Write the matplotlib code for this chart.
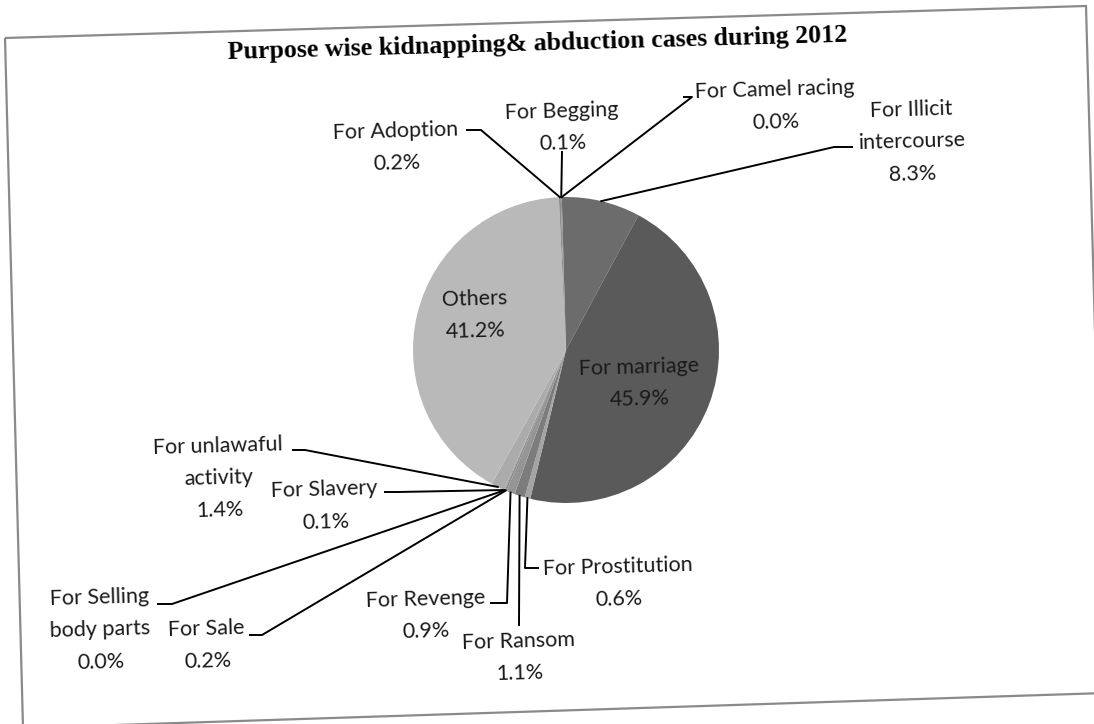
import matplotlib.pyplot as plt
from matplotlib.patches import Polygon
import numpy as np

# data (clockwise from 12 o'clock)
labels = ["For Illicit\nintercourse", "For marriage", "For Prostitution", "For Ransom",
          "For Revenge", "For Sale", "For Selling\nbody parts", "For Slavery",
          "For unlawaful\nactivity", "Others", "For Adoption", "For Begging",
          "For Camel racing"]
values = [8.3, 45.9, 0.6, 1.1, 0.9, 0.2, 0.0, 0.1, 1.4, 41.2, 0.2, 0.1, 0.0]
colors = ["#6c6c6c", "#5a5a5a", "#a4a4a4", "#7c7c7c", "#959595", "#8a8a8a",
          "#8a8a8a", "#9a9a9a", "#ababab", "#b9b9b9", "#8c8c8c", "#8c8c8c", "#8c8c8c"]

title = "Purpose wise kidnapping& abduction cases during 2012"

# label layout in pixels (x from left, y from top): text centre, elbow, end of leader
text_pos = [(912, 142), (639, 383), (618, 583), (519, 657), (426, 615), (207, 645),
            (100, 630), (325, 506), (219, 478), (475, 315), (396, 147), (562, 127),
            (775, 106)]
leaders = [[(834, 147), (852, 147)], None, [(525, 568), (538, 568)], [(519, 625)],
           [(507, 603), (491, 603)], [(262, 635), (250, 635)], [(172, 604), (158, 604)],
           [(398, 492), (385, 492)], [(305, 450), (293, 450)], None,
           [(481, 130), (467, 130)], [(562, 152)], [(692, 97), (684, 97)]]

W, H = 1094, 724
tilt = 1.6  # the scan is slightly rotated


def P(x, y):
    return (x, H - y)


fig = plt.figure(figsize=(W / 100, H / 100), dpi=100)
ax = fig.add_axes([0, 0, 1, 1])
ax.set_xlim(0, W)
ax.set_ylim(0, H)
ax.set_aspect('equal')
ax.axis('off')

# chart frame
frame = Polygon([P(5, 38), P(1086, 6), P(1105, 693), P(23, 728)], closed=True,
                fill=False, edgecolor="#8a8a8a", linewidth=1.6)
ax.add_patch(frame)

center = P(566, 350)
radius = 153
wedges, _ = ax.pie(values, colors=colors, startangle=90 + tilt, counterclock=False,
                   center=center, radius=radius, wedgeprops=dict(linewidth=0))
ax.set_xlim(0, W)
ax.set_ylim(0, H)

font = "Lato"
for w, lab, v, tp, ld in zip(wedges, labels, values, text_pos, leaders):
    ax.text(*P(*tp), f"{lab}\n{v:.1f}%", ha='center', va='center', fontsize=15.5,
            family=font, color="#1a1a1a", rotation=tilt, linespacing=1.75)
    if ld is None:
        continue
    mid = np.deg2rad((w.theta1 + w.theta2) / 2)
    pts = [(center[0] + radius * np.cos(mid), center[1] + radius * np.sin(mid))]
    pts += [P(*p) for p in ld]
    xs, ys = zip(*pts)
    ax.plot(xs, ys, color="black", linewidth=1.4)

ax.text(*P(537, 44), title, ha='center', va='center', fontsize=18.6,
        family="Liberation Serif", fontweight='bold', rotation=tilt)

fig.savefig("out.png", dpi=100, facecolor="white")
